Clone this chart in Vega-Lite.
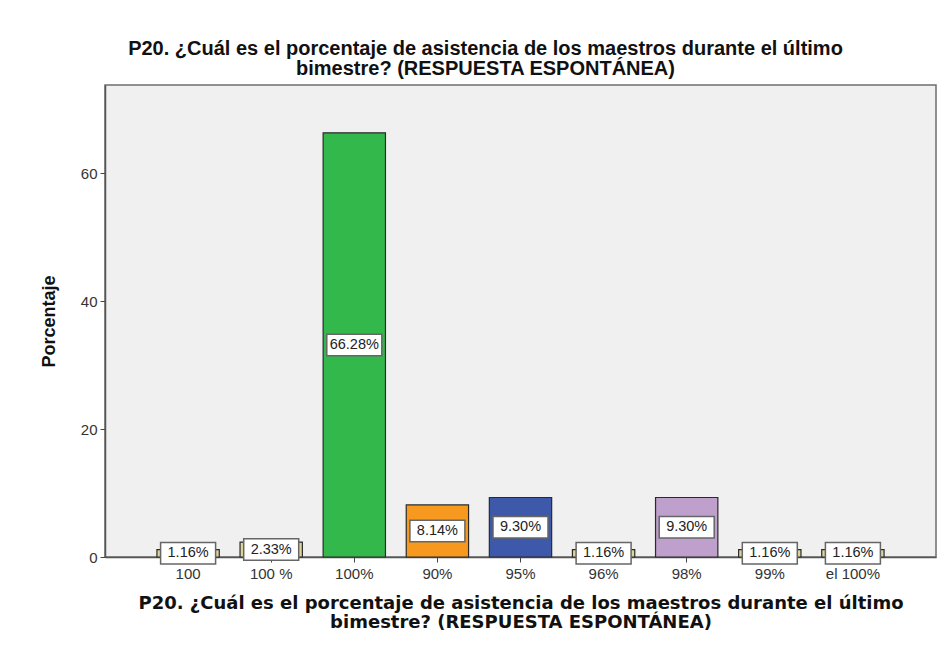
{
  "$schema": "https://vega.github.io/schema/vega-lite/v6.json",
  "autosize": "none",
  "width": 831,
  "height": 472,
  "padding": {"left": 105, "top": 85, "right": 11, "bottom": 97},
  "background": "white",
  "title": {
    "text": ["P20. ¿Cuál es el porcentaje de asistencia de los maestros durante el último", "bimestre? (RESPUESTA ESPONTÁNEA)"],
    "font": "Liberation Sans",
    "fontSize": 20,
    "fontWeight": "bold",
    "color": "#111111",
    "anchor": "middle",
    "dx": -35,
    "offset": 6,
    "lineHeight": 20
  },
  "config": {
    "view": {"fill": "#f0f0f0", "stroke": "#6e6e6e", "strokeWidth": 1.5}
  },
  "data": {
    "values": [
      {"cat": "100", "pct": 1.16, "label": "1.16%"},
      {"cat": "100 %", "pct": 2.33, "label": "2.33%"},
      {"cat": "100%", "pct": 66.28, "label": "66.28%"},
      {"cat": "90%", "pct": 8.14, "label": "8.14%"},
      {"cat": "95%", "pct": 9.30, "label": "9.30%"},
      {"cat": "96%", "pct": 1.16, "label": "1.16%"},
      {"cat": "98%", "pct": 9.30, "label": "9.30%"},
      {"cat": "99%", "pct": 1.16, "label": "1.16%"},
      {"cat": "el 100%", "pct": 1.16, "label": "1.16%"}
    ]
  },
  "transform": [{"calculate": "datum.pct / 2", "as": "mid"}],
  "encoding": {
    "x": {
      "field": "cat",
      "type": "nominal",
      "sort": null,
      "scale": {"paddingInner": 0.25, "paddingOuter": 0.625},
      "axis": {
        "title": ["P20. ¿Cuál es el porcentaje de asistencia de los maestros durante el último", "bimestre? (RESPUESTA ESPONTÁNEA)"],
        "titleFont": "DejaVu Sans",
        "titleFontSize": 18,
        "titleFontWeight": "bold",
        "titleColor": "#111111",
        "titleLineHeight": 19,
        "titlePadding": 13,
        "labelAngle": 0,
        "labelFont": "Liberation Sans",
        "labelFontSize": 15,
        "labelColor": "#333333",
        "labelPadding": 4,
        "tickSize": 5,
        "tickColor": "#444444",
        "domainColor": "#555555",
        "domainWidth": 1.5,
        "grid": false
      }
    }
  },
  "layer": [
    {
      "mark": {"type": "bar", "stroke": "#2a2a2a", "strokeWidth": 1.2},
      "encoding": {
        "y": {
          "field": "pct",
          "type": "quantitative",
          "scale": {"domain": [0, 73.75], "nice": false, "zero": true},
          "axis": {
            "title": "Porcentaje",
            "titleFont": "Liberation Sans",
            "titleFontSize": 18,
            "titleFontWeight": "bold",
            "titleColor": "#111111",
            "titlePadding": 22,
            "values": [0, 20, 40, 60],
            "labelFont": "Liberation Sans",
            "labelFontSize": 15,
            "labelColor": "#333333",
            "labelPadding": 3,
            "tickSize": 5,
            "tickColor": "#444444",
            "domainColor": "#555555",
            "domainWidth": 1.5,
            "grid": false
          }
        },
        "color": {
          "field": "cat",
          "type": "nominal",
          "legend": null,
          "scale": {
            "domain": ["100", "100 %", "100%", "90%", "95%", "96%", "98%", "99%", "el 100%"],
            "range": ["#ddd59a", "#ddd59a", "#33b84c", "#f7991f", "#3f59aa", "#ddd59a", "#bf9fcb", "#ddd59a", "#ddd59a"]
          }
        }
      }
    },
    {
      "mark": {
        "type": "point",
        "shape": "M-1,-0.39H1V0.39H-1Z",
        "size": 3025,
        "filled": true,
        "fill": "white",
        "stroke": "#666666",
        "strokeWidth": 1.5,
        "opacity": 1
      },
      "encoding": {
        "y": {"field": "mid", "type": "quantitative"}
      }
    },
    {
      "mark": {
        "type": "text",
        "font": "Liberation Sans",
        "fontSize": 14.5,
        "color": "#222222",
        "baseline": "middle",
        "align": "center"
      },
      "encoding": {
        "y": {"field": "mid", "type": "quantitative"},
        "text": {"field": "label"}
      }
    }
  ]
}
